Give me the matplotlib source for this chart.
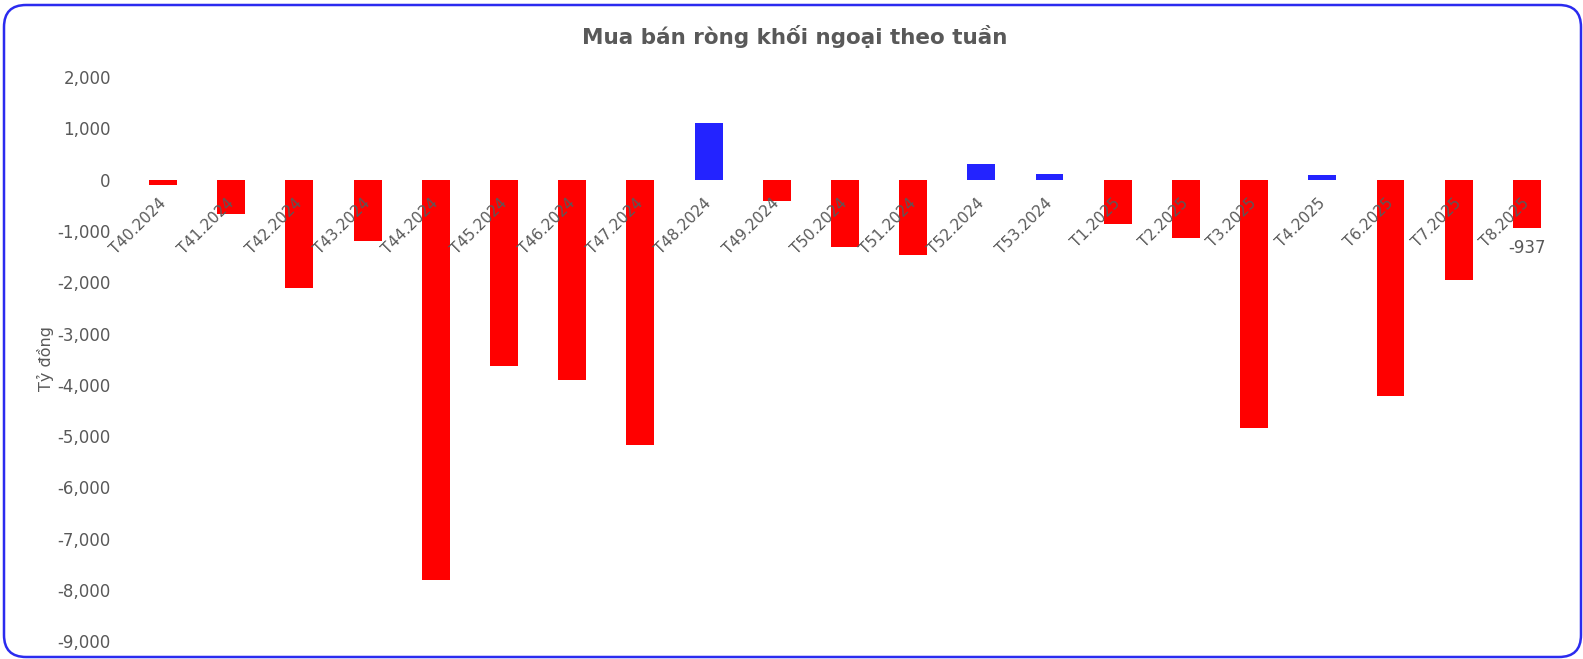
import matplotlib
matplotlib.use("Agg")
import matplotlib.pyplot as plt
from matplotlib.patches import FancyBboxPatch
from matplotlib.ticker import FuncFormatter, MultipleLocator
from matplotlib.transforms import ScaledTranslation

# Mua bán ròng khối ngoại theo tuần (tỷ đồng)
weeks = ["T40.2024", "T41.2024", "T42.2024", "T43.2024", "T44.2024", "T45.2024",
         "T46.2024", "T47.2024", "T48.2024", "T49.2024", "T50.2024", "T51.2024",
         "T52.2024", "T53.2024", "T1.2025", "T2.2025", "T3.2025", "T4.2025",
         "T6.2025", "T7.2025", "T8.2025"]
net_values = [-100, -660, -2120, -1190, -7800, -3640, -3900, -5170, 1110, -410,
              -1320, -1460, 310, 110, -870, -1130, -4850, 90, -4210, -1950, -937]

GRAY = "#595959"
RED = "#FF0000"
BLUE = "#2323FF"

fig = plt.figure(figsize=(15.83, 6.59), dpi=100)
ax = fig.add_axes([0.0814, 0.027, 0.9047, 0.856])

colors = [BLUE if v > 0 else RED for v in net_values]
x = range(len(weeks))
ax.bar(x, net_values, width=0.41, color=colors)

ax.set_xlim(-0.5, len(weeks) - 0.5)
ax.set_ylim(-9000, 2000)
ax.yaxis.set_major_locator(MultipleLocator(1000))
ax.yaxis.set_major_formatter(FuncFormatter(lambda v, p: "{:,.0f}".format(v)))

for s in ["top", "right", "left"]:
    ax.spines[s].set_visible(False)
ax.spines["bottom"].set_position(("data", 0))
ax.spines["bottom"].set_visible(False)

ax.set_xticks(list(x))
ax.set_xticklabels(weeks, rotation=45, ha="right", rotation_mode="anchor")
ax.tick_params(axis="x", length=0, pad=11.5, labelsize=11, labelcolor=GRAY)
ax.tick_params(axis="y", length=0, pad=13, labelsize=12, labelcolor=GRAY)
for lbl in ax.get_xticklabels():
    lbl.set_transform(lbl.get_transform() + ScaledTranslation(-0.05, 0, fig.dpi_scale_trans))

ax.set_ylabel("Tỷ đồng", color=GRAY, fontsize=11.5)
ax.yaxis.set_label_coords(-0.052, 0.502)

# nhãn giá trị tuần cuối
last = len(weeks) - 1
ax.annotate("{:,.0f}".format(net_values[last]), (last, net_values[last]),
            xytext=(0, -8), textcoords="offset points", ha="center", va="top",
            color=GRAY, fontsize=12)

fig.text(0.502, 0.944, "Mua bán ròng khối ngoại theo tuần", ha="center", va="center",
         fontsize=15.5, fontweight="bold", color=GRAY)

# khung viền bo góc
border = FancyBboxPatch((4, 2), 1577, 652, boxstyle="round,pad=0,rounding_size=22",
                        transform=None, fill=False, edgecolor="#2B2BEF", linewidth=1.8)
fig.patches.append(border)

fig.savefig("out.png", dpi=100)
